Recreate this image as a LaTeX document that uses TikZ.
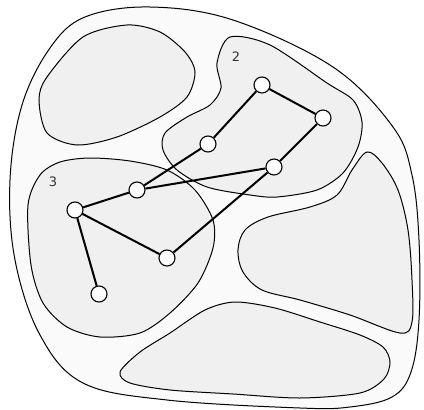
\documentclass[tikz,border=0pt]{standalone}
\usepackage{fontspec}
\setsansfont{DejaVu Sans}
\usepackage{tikz}
\usetikzlibrary{arrows, shapes}

\definecolor{hell}{HTML}{FAFAFA}
\definecolor{flaeche}{HTML}{F0F0F0}
\definecolor{schrift}{HTML}{333333}

\begin{document}
\begin{tikzpicture}[knoten/.style={circle, draw, fill=white, line width=1.1pt, minimum size=16pt, inner sep=0pt},
				kante/.style={line width=2pt},
				rand/.style={line width=1pt},
				marke/.style={text=schrift, font=\sffamily\fontsize{13}{15}\selectfont},
				x=1pt, y=-1pt]
				%Bildbereich
				\useasboundingbox (0,0) rectangle (424,410);
				%Aeusserer Umriss
				\draw[rand, fill=hell] plot[smooth cycle, tension=0.6] coordinates {(85,17) (150,7) (233,20) (333,67) (393,127) (412,175) (419,240) (419,320) (411,372) (392,397) (350,407) (300,408) (167,400) (83,383) (40,335) (15,260) (10,180) (22,105) (50,48)};
				%Gebiete fuellen
				\fill[flaeche] plot[smooth cycle] coordinates {(39,100) (47,77) (83,37) (127,25) (160,32) (185,52) (195,72) (187,97) (160,117) (117,137) (77,145) (47,133)};
				\fill[flaeche] plot[smooth cycle] coordinates {(230,37) (270,45) (327,83) (353,100) (362,122) (358,147) (343,173) (317,190) (277,197) (250,195) (207,187) (177,170) (163,150) (165,133) (187,117) (210,105) (221,88) (217,63)};
				\fill[flaeche] plot[smooth cycle] coordinates {(28,205) (40,175) (60,162) (90,158) (130,161) (167,170) (195,190) (213,220) (213,248) (198,283) (170,313) (140,333) (100,337) (67,327) (43,303) (31,265)};
				\fill[flaeche] plot[smooth cycle, tension=0.55] coordinates {(367,152) (382,163) (398,190) (408,230) (412,280) (412,322) (400,333) (350,315) (300,300) (262,290) (243,272) (238,250) (245,230) (268,217) (310,207) (337,195) (352,170)};
				\fill[flaeche] plot[smooth cycle] coordinates {(120,372) (140,352) (170,333) (205,310) (235,302) (275,308) (320,322) (360,335) (383,347) (390,362) (384,379) (360,393) (300,398) (233,394) (170,390) (130,383)};
				%Umrisse der Gebiete
				\draw[rand] plot[smooth cycle] coordinates {(39,100) (47,77) (83,37) (127,25) (160,32) (185,52) (195,72) (187,97) (160,117) (117,137) (77,145) (47,133)};
				\draw[rand] plot[smooth cycle] coordinates {(230,37) (270,45) (327,83) (353,100) (362,122) (358,147) (343,173) (317,190) (277,197) (250,195) (207,187) (177,170) (163,150) (165,133) (187,117) (210,105) (221,88) (217,63)};
				\draw[rand] plot[smooth cycle] coordinates {(28,205) (40,175) (60,162) (90,158) (130,161) (167,170) (195,190) (213,220) (213,248) (198,283) (170,313) (140,333) (100,337) (67,327) (43,303) (31,265)};
				\draw[rand] plot[smooth cycle, tension=0.55] coordinates {(367,152) (382,163) (398,190) (408,230) (412,280) (412,322) (400,333) (350,315) (300,300) (262,290) (243,272) (238,250) (245,230) (268,217) (310,207) (337,195) (352,170)};
				\draw[rand] plot[smooth cycle] coordinates {(120,372) (140,352) (170,333) (205,310) (235,302) (275,308) (320,322) (360,335) (383,347) (390,362) (384,379) (360,393) (300,398) (233,394) (170,390) (130,383)};
				%Beschriftung
				\node[marke] (nr2) at (236,57) {2};
				\node[marke] (nr3) at (53,182) {3};
				%Knoten
				\node[knoten] (a) at (262,85) {};
				\node[knoten] (b) at (323,118) {};
				\node[knoten] (c) at (208,144) {};
				\node[knoten] (d) at (274,167) {};
				\node[knoten] (e) at (137,190) {};
				\node[knoten] (f) at (75,210) {};
				\node[knoten] (g) at (167,258) {};
				\node[knoten] (h) at (99,294) {};
				%Kanten
				\draw[kante] (a) -- (b);
				\draw[kante] (a) -- (c);
				\draw[kante] (c) -- (e);
				\draw[kante] (b) -- (d);
				\draw[kante] (d) -- (e);
				\draw[kante] (d) -- (g);
				\draw[kante] (e) -- (f);
				\draw[kante] (f) -- (g);
				\draw[kante] (f) -- (h);
\end{tikzpicture}
\end{document}
